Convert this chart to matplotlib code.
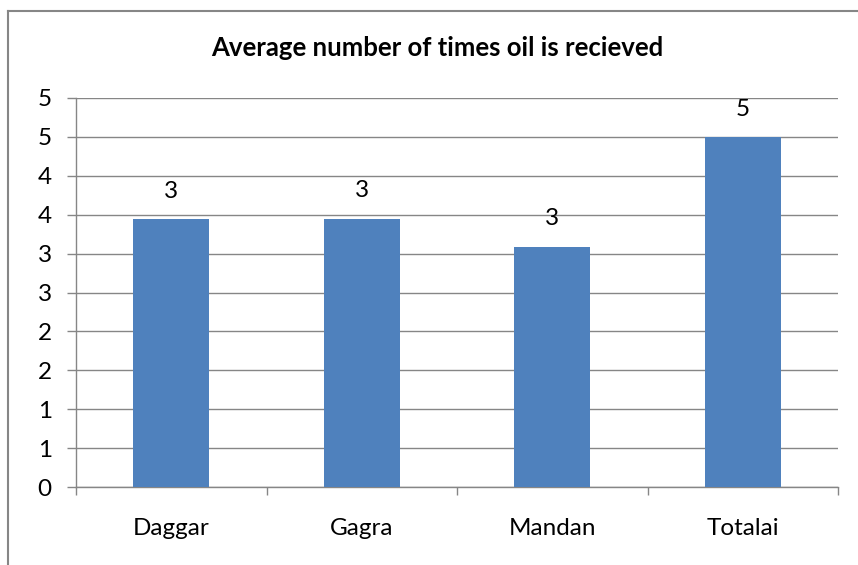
import numpy as np
import matplotlib.pyplot as plt
from matplotlib.lines import Line2D

# chart data
villages = ['Daggar', 'Gagra', 'Mandan', 'Totalai']
avg_times = [3.44, 3.45, 3.09, 4.5]
y_ticks = [0, 0.5, 1.0, 1.5, 2.0, 2.5, 3.0, 3.5, 4.0, 4.5, 5.0]

plt.rcParams['font.family'] = ['Lato', 'DejaVu Sans']

def excel_round(v):
    # excel rounds halves up, python rounds them to even
    return str(int(np.floor(v + 0.5)))

fig = plt.figure(figsize=(8.58, 5.65), dpi=100)
ax = fig.add_axes([76/858, 1 - 487/565, (838 - 76)/858, (487 - 98)/565])

fs = 17.5
x = np.arange(len(villages))
bars = ax.bar(x, avg_times, width=0.4, color='#4F81BD', zorder=3)

for b, v in zip(bars, avg_times):
    ax.annotate(excel_round(v), (b.get_x() + b.get_width()/2, v),
                xytext=(0, 20), textcoords='offset points',
                ha='center', va='center', fontsize=fs)

grid_col = '#868686'
ax.set_ylim(0, 5)
ax.set_yticks(y_ticks)
ax.set_yticklabels([excel_round(t) for t in y_ticks])
ax.yaxis.grid(True, color=grid_col, linewidth=1.0, zorder=0)

ax.set_xlim(-0.5, 3.5)
ax.set_xticks(x)
ax.set_xticklabels(villages)
ax.set_xticks(np.arange(-0.5, 4, 1), minor=True)
ax.tick_params(axis='x', which='major', length=0, pad=22, labelsize=fs)
ax.tick_params(axis='x', which='minor', length=6, color=grid_col, width=1.0)
ax.tick_params(axis='y', length=6.5, color=grid_col, width=1.0, pad=11, labelsize=fs)

for s in ['top', 'right']:
    ax.spines[s].set_visible(False)
for s in ['left', 'bottom']:
    ax.spines[s].set_color(grid_col)
    ax.spines[s].set_linewidth(1.0)

fig.text(437/858, 1 - 48/565, 'Average number of times oil is recieved',
         ha='center', va='center', fontsize=18.5, fontweight='bold')

# outer chart frame (cut off at right and bottom)
fig.add_artist(Line2D([8/858, 8/858], [0, 1 - 11/565], transform=fig.transFigure,
                      color=grid_col, linewidth=1.5))
fig.add_artist(Line2D([8/858, 1], [1 - 11/565, 1 - 11/565], transform=fig.transFigure,
                      color=grid_col, linewidth=1.5))

fig.savefig('out.png', dpi=100)
